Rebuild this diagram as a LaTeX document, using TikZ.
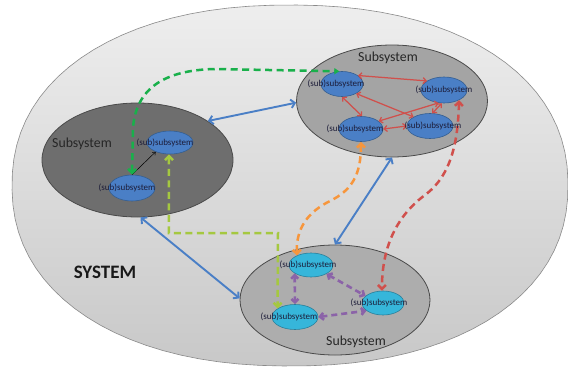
\documentclass[tikz,border=0pt]{standalone}
\usepackage{fontspec}
\setmainfont{Carlito}
\usetikzlibrary{shapes.geometric,arrows.meta}
\definecolor{outtop}{HTML}{EEEEEE}
\definecolor{outbot}{HTML}{C8C8C8}
\definecolor{outline}{HTML}{8A8A8A}
\definecolor{leftgray}{HTML}{6E6E6E}
\definecolor{midgray}{HTML}{A4A4A4}
\definecolor{botgray}{HTML}{ADADAD}
\definecolor{sysedge}{HTML}{4A4A4A}
\definecolor{subblue}{HTML}{4A7FC6}
\definecolor{subblueedge}{HTML}{345E91}
\definecolor{subcyan}{HTML}{36B6DA}
\definecolor{subcyanedge}{HTML}{2A7F9A}
\definecolor{textdark}{HTML}{1C1C38}
\definecolor{arrblue}{HTML}{4A7FC6}
\definecolor{arrred}{HTML}{D0504C}
\definecolor{arrgreen}{HTML}{19B04B}
\definecolor{arrorange}{HTML}{F7963C}
\definecolor{arrlime}{HTML}{A5C840}
\definecolor{arrpurple}{HTML}{8B63A8}
\begin{document}
\begin{tikzpicture}[x=1pt,y=-1pt,
  subsysbox/.style={ellipse, draw=sysedge, line width=0.8pt, inner sep=0pt},
  subsub/.style={ellipse, draw=subblueedge, fill=subblue, line width=0.6pt, inner sep=0pt},
  subcy/.style={ellipse, draw=subcyanedge, fill=subcyan, line width=0.6pt, inner sep=0pt},
  subtext/.style={font=\fontsize{9}{9}\selectfont, text=textdark, inner sep=0pt},
  biglabel/.style={font=\fontsize{13.8}{14}\selectfont, text=black!85, inner sep=0pt},
  bluearr/.style={draw=arrblue, line width=1.9pt, {Straight Barb[length=4pt,width=8.5pt]}-{Straight Barb[length=4pt,width=8.5pt]}},
  redarr/.style={draw=arrred, line width=1.25pt, {Straight Barb[length=3pt,width=6pt]}-{Straight Barb[length=3pt,width=6pt]}},
  dasharr/.style={draw=#1, line width=2.5pt, dash pattern=on 7pt off 4.5pt},
  purplearr/.style={draw=arrpurple, line width=2.6pt, dash pattern=on 6pt off 4pt, {Straight Barb[length=3.5pt,width=7pt]}-{Straight Barb[length=3.5pt,width=7pt]}}
]
\useasboundingbox (0,0) rectangle (568,367);
\fill[white] (0,0) rectangle (568,367);
% outer system shape
\shade[top color=outtop, bottom color=outbot, draw=outline, line width=0.6pt]
  plot[domain=1:361, samples=91, variable=\t]
  ({290+278*cos(\t)*pow(abs(cos(\t)),-0.091)}, {185.5-180.5*sin(\t)*pow(abs(sin(\t)),-0.091)}) -- cycle;
\node[font=\bfseries\fontsize{19}{20}\selectfont, text=black!90, inner sep=0pt] (sys) at (105,272) {SYSTEM};

% subsystems
\node[subsysbox, fill=leftgray, minimum width=191pt, minimum height=114pt] (L) at (137.5,160) {};
\node[subsysbox, fill=midgray, minimum width=191pt, minimum height=112pt] (T) at (392,101) {};
\node[subsysbox, fill=botgray, minimum width=190pt, minimum height=110pt] (B) at (335,300) {};
\node[biglabel] (lL) at (82,144) {Subsystem};
\node[biglabel] (lT) at (388,58) {Subsystem};
\node[biglabel] (lB) at (356,342) {Subsystem};

% blue connectors between subsystems
\draw[bluearr] (L.29) -- (T.181);
\draw[bluearr] (L.273) -- (B.179);
\draw[bluearr] (T.270) -- (B.90);

% subsubsystems
\node[subsub, minimum width=46pt, minimum height=23pt] (LU) at (170,142.5) {};
\node[subsub, minimum width=46pt, minimum height=26pt] (LL) at (132,188) {};
\node[subsub, minimum width=42pt, minimum height=25pt] (TL) at (342,84) {};
\node[subsub, minimum width=46pt, minimum height=26pt] (TR) at (444,90) {};
\node[subsub, minimum width=44pt, minimum height=25pt] (TBL) at (361,129) {};
\node[subsub, minimum width=46pt, minimum height=25pt] (TBR) at (430,126) {};
\node[subcy, minimum width=44pt, minimum height=24pt] (BT) at (311,265) {};
\node[subcy, minimum width=46pt, minimum height=25pt] (BBL) at (295,317) {};
\node[subcy, minimum width=42pt, minimum height=24pt] (BR) at (383,303) {};

% black arrow in left subsystem
\draw[black, line width=0.5pt, -{Straight Barb[length=2.5pt,width=4pt]}] (LL.90) -- (LU.213);

% red arrows in top subsystem
\draw[redarr] (TL.28) -- (TR.152);
\draw[redarr] (TL.270) -- (TBL.85);
\draw[redarr] (TL.326) -- (TBR.151);
\draw[redarr] (TR.247) -- (TBL.24);
\draw[redarr] (TR.261) -- (TBR.80);
\draw[redarr] (TBL.0) -- (TBR.180);

% purple dashed arrows in bottom subsystem
\draw[purplearr] (BT.207) -- (BBL.90);
\draw[purplearr] (BT.330) -- (BR.158);
\draw[purplearr] (BBL.0) -- (BR.205);

% dashed connectors
\draw[dasharr=arrgreen, {Straight Barb[length=4pt,width=8pt]}-{Triangle[length=5pt,width=6pt]}]
  (LL.90) -- (133,128) .. controls (136,88) and (165,70) .. (215,69) -- (TL.102);
\coordinate (yg) at (278,233);
\draw[dasharr=arrlime, {Straight Barb[length=4pt,width=8pt]}-{Straight Barb[length=4pt,width=8pt]}]
  (LU.265) |- (yg) -- (BBL.154);
\draw[dasharr=arrorange, {Straight Barb[length=4pt,width=8pt]}-{Straight Barb[length=4pt,width=8pt]}]
  (TBL.270) .. controls (361,175) and (352,190) .. (330,201) .. controls (308,212) and (296,228) .. (BT.146);
\draw[dasharr=arrred, {Straight Barb[length=4pt,width=8pt]}-{Straight Barb[length=4pt,width=8pt]}]
  (TR.326) .. controls (458,140) and (452,175) .. (425,195) .. controls (398,215) and (382,245) .. (BR.95);

% sub-subsystem labels
\node[subtext] (tLU) at ([xshift=-5pt]LU.center) {(sub)subsystem};
\node[subtext] (tLL) at ([xshift=-5pt]LL.center) {(sub)subsystem};
\node[subtext] (tTL) at ([xshift=-6pt]TL.center) {(sub)subsystem};
\node[subtext] (tTR) at ([xshift=0pt]TR.center) {(sub)subsystem};
\node[subtext] (tTBL) at ([xshift=-6pt]TBL.center) {(sub)subsystem};
\node[subtext] (tTBR) at ([xshift=3pt]TBR.center) {(sub)subsystem};
\node[subtext] (tBT) at ([xshift=-3pt]BT.center) {(sub)subsystem};
\node[subtext] (tBBL) at ([xshift=-6pt]BBL.center) {(sub)subsystem};
\node[subtext] (tBR) at ([xshift=-4pt]BR.center) {(sub)subsystem};
\end{tikzpicture}
\end{document}
